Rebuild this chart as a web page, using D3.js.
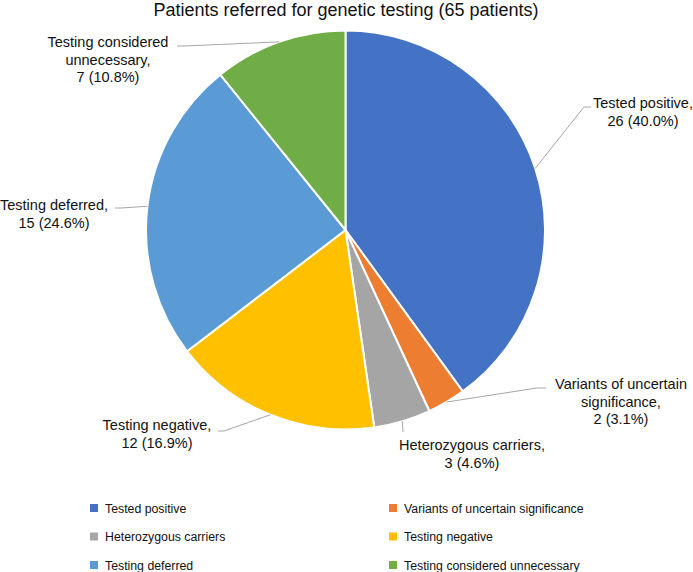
<!DOCTYPE html>
<html>
<head>
<meta charset="utf-8">
<script src="https://cdn.jsdelivr.net/npm/d3@7"></script>
<style>
  body { margin: 0; background: #fff; }
  text { font-family: "Liberation Sans", Arial, Helvetica, sans-serif; fill: #111; }
</style>
</head>
<body>
<div id="chart"></div>
<script>
var svgWidth = 693;
var svgHeight = 572;

// data
var categories = ['Tested positive', 'Variants of uncertain significance', 'Heterozygous carriers',
                  'Testing negative', 'Testing deferred', 'Testing considered unnecessary'];
var counts = [26, 2, 3, 12, 15, 7];
var percents = [40.0, 3.1, 4.6, 16.9, 24.6, 10.8];
var labelLines = [
    ['Tested positive,', '26 (40.0%)'],
    ['Variants of uncertain', 'significance,', '2 (3.1%)'],
    ['Heterozygous carriers,', '3 (4.6%)'],
    ['Testing negative,', '12 (16.9%)'],
    ['Testing deferred,', '15 (24.6%)'],
    ['Testing considered', 'unnecessary,', '7 (10.8%)']
];
var colors = ['#4472C4', '#ED7D31', '#A5A5A5', '#FFC000', '#5B9BD5', '#70AD47'];

// where each data label sits (text centre, first baseline, leader elbow, stub end)
var labelLayout = [
    {tx: 643, ty: 108, ex: 584, ey: 107, sx: 591},
    {tx: 621, ty: 389, ex: 537, ey: 388, sx: 546},
    {tx: 472, ty: 450, ex: 403, ey: 432, sx: 403},
    {tx: 157, ty: 430, ex: 224, ey: 431, sx: 218},
    {tx: 54,  ty: 210, ex: 121, ey: 208, sx: 115},
    {tx: 108, ty: 47,  ex: 184, ey: 46,  sx: 177}
];

var cx = 345.5, cy = 230, radius = 199.5;

var entries = categories.map(function(c, i) {
    return {name: c, count: counts[i], pct: percents[i], color: colors[i], lines: labelLines[i], layout: labelLayout[i]};
});

var svg = d3.select('#chart').append('svg')
    .attr('width', svgWidth)
    .attr('height', svgHeight);

svg.append('text')
    .attr('x', 346)
    .attr('y', 16)
    .attr('text-anchor', 'middle')
    .attr('font-size', '18px')
    .text('Patients referred for genetic testing (65 patients)');

var pie = d3.pie()
    .sort(null)
    .value(d => d.pct);

var arc = d3.arc().innerRadius(0).outerRadius(radius);
var edgeArc = d3.arc().innerRadius(radius).outerRadius(radius);

var pieG = svg.append('g')
    .attr('transform', `translate(${cx}, ${cy})`);

var arcs = pie(entries);

pieG.selectAll('path.slice')
    .data(arcs)
    .enter()
    .append('path')
    .attr('class', 'slice')
    .attr('d', arc)
    .attr('fill', d => d.data.color)
    .attr('stroke', '#fff')
    .attr('stroke-width', 2)
    .attr('stroke-linejoin', 'round');

// leader lines
svg.selectAll('polyline.leader')
    .data(arcs)
    .enter()
    .append('polyline')
    .attr('class', 'leader')
    .attr('fill', 'none')
    .attr('stroke', '#a6a6a6')
    .attr('stroke-width', 1)
    .attr('points', function(d) {
        var c = edgeArc.centroid(d);
        var L = d.data.layout;
        return [[cx + c[0], cy + c[1]], [L.ex, L.ey], [L.sx, L.ey]].map(p => p.join(',')).join(' ');
    });

// data labels
var labels = svg.selectAll('text.dlabel')
    .data(arcs)
    .enter()
    .append('text')
    .attr('class', 'dlabel')
    .attr('text-anchor', 'middle')
    .attr('font-size', '14.5px');

labels.each(function(d) {
    var t = d3.select(this);
    d.data.lines.forEach(function(line, i) {
        t.append('tspan')
            .attr('x', d.data.layout.tx)
            .attr('y', d.data.layout.ty + i * 17.5)
            .text(line);
    });
});

// legend
var legendX = d3.scaleOrdinal().domain([0, 1]).range([90, 389]);
var legendY = d3.scaleOrdinal().domain([0, 1, 2]).range([508, 536.5, 565]);

var legend = svg.selectAll('g.legend')
    .data(entries)
    .enter()
    .append('g')
    .attr('class', 'legend')
    .attr('transform', (d, i) => `translate(${legendX(i % 2)}, ${legendY(Math.floor(i / 2))})`);

legend.append('rect')
    .attr('x', 0)
    .attr('y', -4)
    .attr('width', 8)
    .attr('height', 8)
    .attr('fill', d => d.color);

legend.append('text')
    .attr('x', 15)
    .attr('y', 4.5)
    .attr('font-size', '12.3px')
    .text(d => d.name);
</script>
</body>
</html>
